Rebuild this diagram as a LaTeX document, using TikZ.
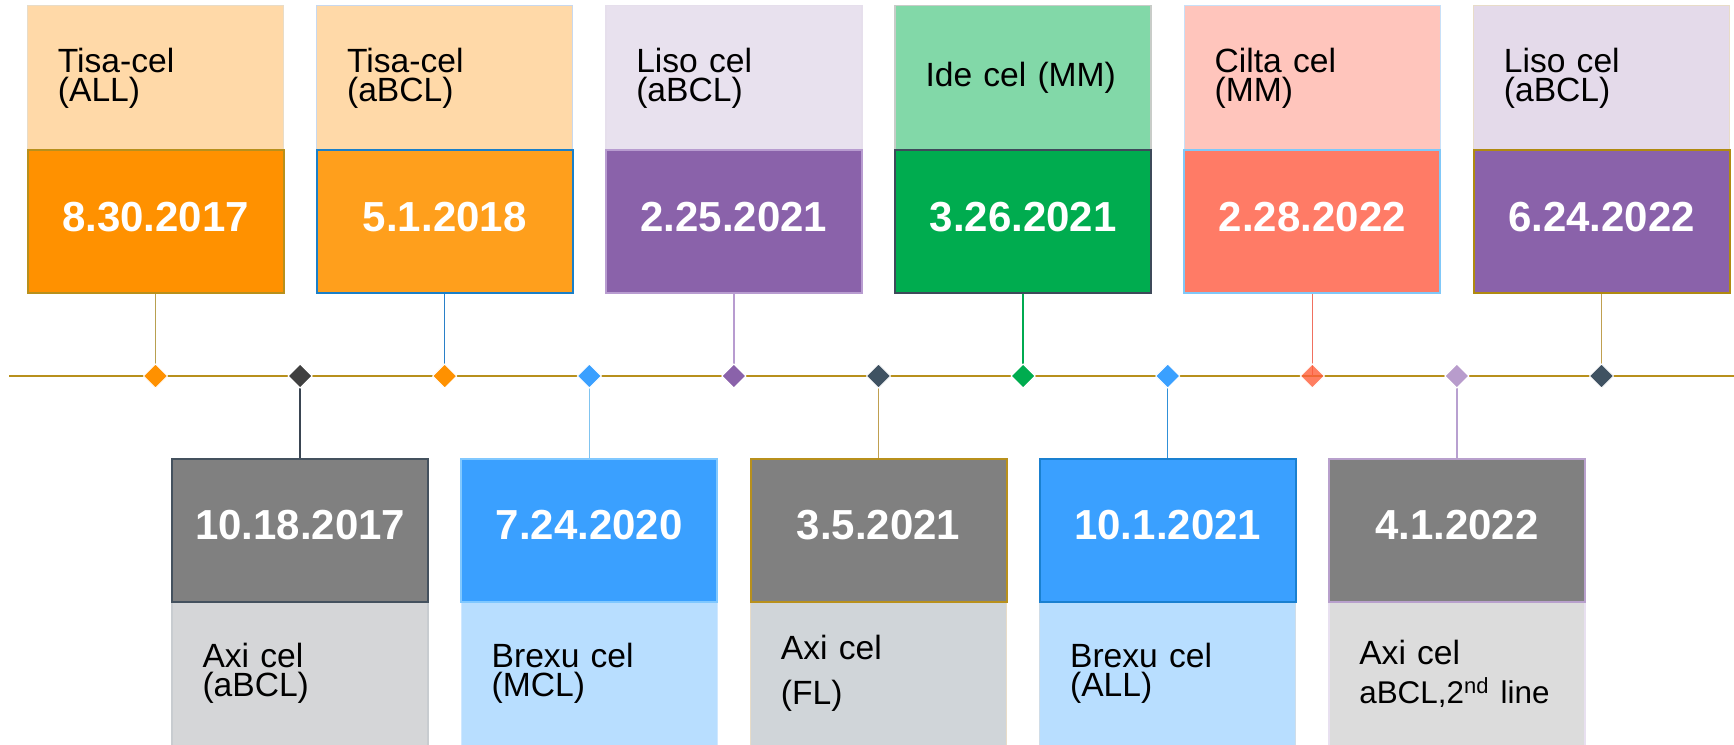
\documentclass[tikz,border=0pt]{standalone}
\usepackage{fontspec}
\setmainfont{Liberation Sans}
\usetikzlibrary{shapes.geometric,backgrounds}

% palette
\definecolor{axisgold}{HTML}{B8901C}
\definecolor{peach}{HTML}{FFD9A8}
\definecolor{lavlight}{HTML}{E8E1EE}
\definecolor{lavlightb}{HTML}{E4DAEA}
\definecolor{mint}{HTML}{82D8A8}
\definecolor{salmonlight}{HTML}{FFC5BC}
\definecolor{orangeA}{HTML}{FF9100}
\definecolor{orangeB}{HTML}{FF9F1C}
\definecolor{purple}{HTML}{8A62AA}
\definecolor{green}{HTML}{00AC4F}
\definecolor{salmon}{HTML}{FF7B66}
\definecolor{midgray}{HTML}{808080}
\definecolor{skyblue}{HTML}{3AA0FF}
\definecolor{paleblue}{HTML}{B8DEFF}
\definecolor{palegrayA}{HTML}{D5D6D8}
\definecolor{palegrayB}{HTML}{D0D5D9}
\definecolor{palegrayC}{HTML}{DCDCDC}
\definecolor{slate}{HTML}{3F5262}
\definecolor{charcoal}{HTML}{404040}
\definecolor{tomato}{HTML}{FF5E3A}
\definecolor{lilac}{HTML}{B89CCC}
% borders and stems
\definecolor{bdBeige}{HTML}{E8DCC8}
\definecolor{bdBlueLt}{HTML}{C8D8EE}
\definecolor{bdBlue}{HTML}{1A7FC8}
\definecolor{bdLav}{HTML}{B89CD0}
\definecolor{bdLavLt}{HTML}{E6DFEC}
\definecolor{bdGray}{HTML}{C8CCC8}
\definecolor{bdSlate}{HTML}{3E4A5A}
\definecolor{bdSky}{HTML}{80C8F8}
\definecolor{bdSkyLt}{HTML}{C8E0F8}
\definecolor{bdGoldB}{HTML}{B08A10}
\definecolor{bdSlateB}{HTML}{44515E}
\definecolor{bdGrayB}{HTML}{C8CCD0}
\definecolor{bdPaleBlue}{HTML}{D0E8FF}
\definecolor{bdPaleBlueB}{HTML}{D0DDE8}
\definecolor{bdBlueB}{HTML}{1A80D0}
\definecolor{bdLilac}{HTML}{B8A0CC}
\definecolor{bdLilacLt}{HTML}{E8E0F0}
\definecolor{bdSkyB}{HTML}{80C8FF}
\definecolor{stGold}{HTML}{B8A050}
\definecolor{stBlue}{HTML}{2A80C8}
\definecolor{stGreen}{HTML}{00AA50}
\definecolor{stRed}{HTML}{F07060}
\definecolor{stGoldB}{HTML}{C0A050}
\definecolor{stSlate}{HTML}{3A4552}
\definecolor{stSky}{HTML}{80C4F0}
\definecolor{stBlueB}{HTML}{3090D8}
\definecolor{stLilac}{HTML}{B8A0D0}

\begin{document}
\begin{tikzpicture}[x=0.5pt,y=-0.5pt,
  card/.style={rectangle, inner sep=0pt, outer sep=0pt, minimum width=128pt},
  toplabel/.style={card, minimum height=72.45pt, text width=97.6pt, inner xsep=15.2pt,
    align=left, font=\fontsize{16.8}{14.5}\selectfont, text=black, line width=0.7pt},
  botlabel/.style={toplabel, minimum height=71.75pt},
  topdate/.style={card, minimum height=71.3pt, line width=1pt, text=white,
    font=\bfseries\fontsize{21}{25}\selectfont, text depth=5pt},
  botdate/.style={topdate, minimum height=71.75pt},
  marker/.style={diamond, inner sep=0pt, outer sep=0pt, minimum size=12pt,
    draw=white, line width=0.5pt},
  stem/.style={line width=0.65pt},
  timeline/.style={line width=1.35pt, axisgold}]
\useasboundingbox (0,0) rectangle (1734,744);

% upper cards
\node[toplabel, fill=peach, draw=bdBeige] (t1l) at (155.5,77.95) {Tisa-cel\\(ALL)};
\node[topdate, fill=orangeA, draw=axisgold] (t1d) at (155.5,221.7) {8.30.2017};
\node[toplabel, fill=peach, draw=bdBlueLt] (t2l) at (444.7,77.95) {Tisa-cel\\(aBCL)};
\node[topdate, fill=orangeB, draw=bdBlue] (t2d) at (444.7,221.7) {5.1.2018};
\node[toplabel, fill=lavlight, draw=bdLavLt] (t3l) at (733.9,77.95) {Liso cel\\(aBCL)};
\node[topdate, fill=purple, draw=bdLav] (t3d) at (733.9,221.7) {2.25.2021};
\node[toplabel, fill=mint, draw=bdGray] (t4l) at (1023.1,77.95) {Ide cel (MM)};
\node[topdate, fill=green, draw=bdSlate] (t4d) at (1023.1,221.7) {3.26.2021};
\node[toplabel, fill=salmonlight, draw=bdSkyLt] (t5l) at (1312.3,77.95) {Cilta cel\\(MM)};
\node[topdate, fill=salmon, draw=bdSky] (t5d) at (1312.3,221.7) {2.28.2022};
\node[toplabel, fill=lavlightb, draw=bdBeige] (t6l) at (1601.5,77.95) {Liso cel\\(aBCL)};
\node[topdate, fill=purple, draw=bdGoldB] (t6d) at (1601.5,221.7) {6.24.2022};

% lower cards
\node[botlabel, fill=palegrayA, draw=bdGrayB] (b1l) at (300.1,673.75) {Axi cel\\(aBCL)};
\node[botdate, fill=midgray, draw=bdSlateB] (b1d) at (300.1,530.25) {10.18.2017};
\node[botlabel, fill=paleblue, draw=bdPaleBlue] (b2l) at (589.3,673.75) {Brexu cel\\(MCL)};
\node[botdate, fill=skyblue, draw=bdSkyB] (b2d) at (589.3,530.25) {7.24.2020};
\node[botlabel, fill=palegrayB, draw=bdBeige, font=\fontsize{16.8}{22.5}\selectfont] (b3l) at (878.5,673.75) {Axi cel\\(FL)};
\node[botdate, fill=midgray, draw=axisgold] (b3d) at (878.5,530.25) {3.5.2021};
\node[botlabel, fill=paleblue, draw=bdPaleBlueB] (b4l) at (1167.7,673.75) {Brexu cel\\(ALL)};
\node[botdate, fill=skyblue, draw=bdBlueB] (b4d) at (1167.7,530.25) {10.1.2021};
\node[botlabel, fill=palegrayC, draw=bdLilacLt, font=\fontsize{16.8}{19.7}\selectfont] (b5l) at (1456.9,673.75) {Axi cel\\{\fontsize{15.7}{19.7}\selectfont aBCL,2\textsuperscript{nd} line}};
\node[botdate, fill=midgray, draw=bdLilac] (b5d) at (1456.9,530.25) {4.1.2022};

% markers on the axis
\node[marker, fill=orangeA]  (m1)  at (155.5,376) {};
\node[marker, fill=charcoal] (m2)  at (300.1,376) {};
\node[marker, fill=orangeA]  (m3)  at (444.7,376) {};
\node[marker, fill=skyblue]  (m4)  at (589.3,376) {};
\node[marker, fill=purple]   (m5)  at (733.9,376) {};
\node[marker, fill=slate]    (m6)  at (878.5,376) {};
\node[marker, fill=green]    (m7)  at (1023.1,376) {};
\node[marker, fill=skyblue]  (m8)  at (1167.7,376) {};
\node[marker, fill=tomato, fill opacity=0.8] (m9) at (1312.3,376) {};
\node[marker, fill=lilac]    (m10) at (1456.9,376) {};
\node[marker, fill=slate]    (m11) at (1601.5,376) {};

\coordinate (axisL) at (9,376);
\coordinate (axisR) at (1734,376);

\begin{pgfonlayer}{background}
  \draw[timeline] (axisL) -- (axisR);
  \draw[stem, stGold]  (t1d.south) -- (m1.north);
  \draw[stem, stBlue]  (t2d.south) -- (m3.north);
  \draw[stem, bdLav]   (t3d.south) -- (m5.north);
  \draw[stem, stGreen] (t4d.south) -- (m7.north);
  \draw[stem, stRed]   (t5d.south) -- (m9.center);
  \draw[stem, stGoldB] (t6d.south) -- (m11.north);
  \draw[stem, stSlate] (m2.south)  -- (b1d.north);
  \draw[stem, stSky]   (m4.south)  -- (b2d.north);
  \draw[stem, stGoldB] (m6.south)  -- (b3d.north);
  \draw[stem, stBlueB] (m8.south)  -- (b4d.north);
  \draw[stem, stLilac] (m10.south) -- (b5d.north);
\end{pgfonlayer}
\end{tikzpicture}
\end{document}
